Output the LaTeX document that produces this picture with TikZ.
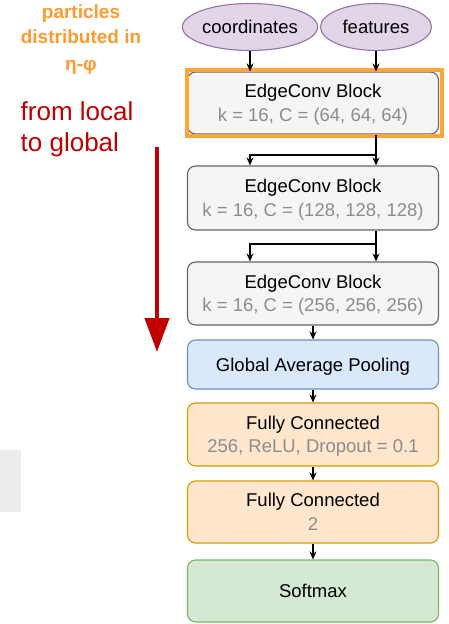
\documentclass[tikz,border=0pt]{standalone}
\usepackage{fontspec}
\setmainfont{Liberation Sans}
\usetikzlibrary{shapes.geometric,arrows.meta}

\definecolor{blkfill}{HTML}{F5F5F5}
\definecolor{blkline}{HTML}{666666}
\definecolor{subgray}{HTML}{8C8C8C}
\definecolor{poolfill}{HTML}{DAE8FC}
\definecolor{poolline}{HTML}{6C8EBF}
\definecolor{fcfill}{HTML}{FFE6CC}
\definecolor{fcline}{HTML}{D79B00}
\definecolor{smfill}{HTML}{D5E8D4}
\definecolor{smline}{HTML}{82B366}
\definecolor{infill}{HTML}{E1D5E7}
\definecolor{inline}{HTML}{9673A6}
\definecolor{hlorange}{HTML}{FFA53A}
\definecolor{txtorange}{HTML}{FF9A2E}
\definecolor{txtred}{HTML}{C00000}

\tikzset{
  block/.style={rectangle,rounded corners=8pt,draw=blkline,fill=blkfill,line width=1.1pt,
    minimum width=251pt,minimum height=62pt,align=center,text depth=0pt,
    font=\fontsize{18.5}{23.5}\selectfont},
  twoline/.style={text depth=-5pt},
  inblob/.style={ellipse,draw=inline,fill=infill,line width=1.1pt,
    minimum width=111pt,minimum height=47pt,inner sep=0pt,font=\fontsize{18.5}{22}\selectfont},
  sidenote/.style={anchor=base,inner sep=0pt,text=txtorange,font=\fontsize{19}{20}\selectfont\bfseries},
  flowtext/.style={anchor=base west,inner sep=0pt,text=txtred,font=\fontsize{26}{30}\selectfont},
}

\begin{document}
\begin{tikzpicture}[x=1pt,y=-1pt,>={Stealth[length=8pt,width=7pt]},line width=1.4pt]
    \useasboundingbox (0,0) rectangle (448,624);
    % side notes
    \node at (81,18) [sidenote] (pt1) {particles};
    \node at (81,43) [sidenote] (pt2) {distributed in};
    \node at (81,70) [sidenote] (pt3) {η-φ};
    \node at (20,120) [flowtext] (lg1) {from local};
    \node at (20,151) [flowtext] (lg2) {to global};
    \coordinate (rtop) at (157,147);
    \coordinate (rbot) at (157,352);
    \draw[txtred,line width=4.5pt,-{Triangle[width=24pt,length=34pt]}] (rtop) -- (rbot);
    \fill[black!7] (0,450) rectangle (21,512);
    % inputs
    \node at (250,27) [inblob] (crd) {coordinates};
    \node at (376,27) [inblob] (fts) {features};
    % blocks
    \node at (313,103) [block,twoline] (ec1) {EdgeConv Block\\{\color{subgray}k = 16, C = (64, 64, 64)}};
    \node at (313,198) [block,twoline,minimum height=64pt] (ec2) {EdgeConv Block\\{\color{subgray}k = 16, C = (128, 128, 128)}};
    \node at (313,293.5) [block,twoline,minimum height=63pt] (ec3) {EdgeConv Block\\{\color{subgray}k = 16, C = (256, 256, 256)}};
    \node at (313,364.5) [block,minimum height=49pt,draw=poolline,fill=poolfill] (gap) {Global Average Pooling};
    \node at (313,434.5) [block,twoline,minimum height=63pt,draw=fcline,fill=fcfill] (fc1) {Fully Connected\\{\color{subgray}256, ReLU, Dropout = 0.1}};
    \node at (313,512) [block,twoline,draw=fcline,fill=fcfill] (fc2) {Fully Connected\\{\color{subgray}2}};
    \node at (313,591) [block,draw=smline,fill=smfill] (smx) {Softmax};
    % highlight
    \draw[hlorange,line width=4.5pt] (187,70) rectangle (442,136);
    % connectors
    \draw[->] (crd.south) -- (crd.south |- ec1.north);
    \draw[->] (fts.south) -- (fts.south |- ec1.north);
    \coordinate (j1) at (376,155);
    \coordinate (j1l) at (250,155);
    \draw (ec1.south -| j1) -- (j1);
    \draw[->] (j1) -- (j1 |- ec2.north);
    \draw[->] (j1) -- (j1l) -- (j1l |- ec2.north);
    \coordinate (j2) at (376,244);
    \coordinate (j2l) at (250,244);
    \draw (ec2.south -| j2) -- (j2);
    \draw[->] (j2) -- (j2 |- ec3.north);
    \draw[->] (j2) -- (j2l) -- (j2l |- ec3.north);
    \draw[->] (ec3) -- (gap);
    \draw[->] (gap) -- (fc1);
    \draw[->] (fc1) -- (fc2);
    \draw[->] (fc2) -- (smx);
\end{tikzpicture}
\end{document}
